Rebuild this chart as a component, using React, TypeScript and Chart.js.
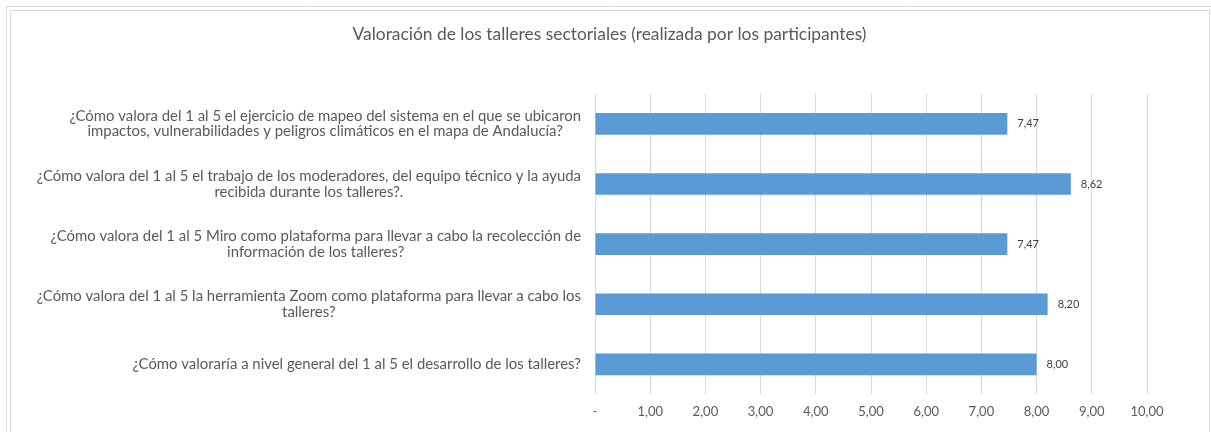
import React, { useEffect, useRef } from 'react';
import { Chart, registerables } from 'chart.js';

Chart.register(...registerables);

const chartTitle = 'Valoración de los talleres sectoriales (realizada por los participantes)';

const questions: string[][] = [
  [
    '¿Cómo valora del 1 al 5 el ejercicio de mapeo del sistema en el que se ubicaron',
    'impactos, vulnerabilidades y peligros climáticos en el mapa de Andalucía?',
  ],
  [
    '¿Cómo valora del 1 al 5 el trabajo de los moderadores, del equipo técnico y la ayuda',
    'recibida durante los talleres?.',
  ],
  [
    '¿Cómo valora del 1 al 5 Miro como plataforma para llevar a cabo la recolección de',
    'información de los talleres?',
  ],
  [
    '¿Cómo valora del 1 al 5 la herramienta Zoom como plataforma para llevar a cabo los',
    'talleres?',
  ],
  ['¿Cómo valoraría a nivel general del 1 al 5 el desarrollo de los talleres?'],
];

const scores = [7.47, 8.62, 7.47, 8.2, 8.0];

const xTickValues = [0, 1, 2, 3, 4, 5, 6, 7, 8, 9, 10];
const xTickLabels = ['-', '1,00', '2,00', '3,00', '4,00', '5,00', '6,00', '7,00', '8,00', '9,00', '10,00'];

const FONT = 'Lato, "Open Sans", "Noto Sans", sans-serif';
const TEXT = '#595959';
const GRID = '#d9d9d9';

const fmt = (v: number) => v.toFixed(2).replace('.', ',');

const framePlugin = {
  id: 'frame',
  beforeDraw(chart: any) {
    const ctx = chart.ctx;
    ctx.save();
    ctx.fillStyle = '#ffffff';
    ctx.fillRect(0, 0, chart.width, chart.height);
    ctx.strokeStyle = GRID;
    ctx.lineWidth = 1;
    ctx.beginPath();
    ctx.moveTo(6.5, chart.height + 5);
    ctx.lineTo(6.5, 6.5);
    ctx.lineTo(chart.width + 5, 6.5);
    ctx.moveTo(10.5, chart.height + 5);
    ctx.lineTo(10.5, 10.5);
    ctx.lineTo(1209.5, 10.5);
    ctx.lineTo(1209.5, chart.height + 5);
    ctx.stroke();
    ctx.restore();
  },
};

const yLabelPlugin = {
  id: 'yLabels',
  afterDraw(chart: any) {
    const ctx = chart.ctx;
    const ys = chart.scales.y;
    const labels = chart.data.labels as string[][];
    ctx.save();
    ctx.font = `14.9px ${FONT}`;
    ctx.fillStyle = TEXT;
    ctx.textBaseline = 'middle';
    ctx.textAlign = 'center';
    const lh = 15.5;
    labels.forEach((lines, i) => {
      const yc = ys.getPixelForTick(i);
      const widest = Math.max(...lines.map((l) => ctx.measureText(l).width));
      const cx = chart.chartArea.left - 14 - widest / 2;
      lines.forEach((l, j) => {
        ctx.fillText(l, cx, yc + (j - (lines.length - 1) / 2) * lh);
      });
    });
    ctx.restore();
  },
};

const valueLabelPlugin = {
  id: 'valueLabels',
  afterDatasetsDraw(chart: any) {
    const ctx = chart.ctx;
    const meta = chart.getDatasetMeta(0);
    const data = chart.data.datasets[0].data as number[];
    ctx.save();
    ctx.font = `11px ${FONT}`;
    ctx.fillStyle = '#404040';
    ctx.textBaseline = 'middle';
    ctx.textAlign = 'left';
    meta.data.forEach((bar: any, i: number) => {
      ctx.fillText(fmt(data[i]), bar.x + 10, bar.y);
    });
    ctx.restore();
  },
};

export default function App() {
  const canvasRef = useRef<HTMLCanvasElement | null>(null);

  useEffect(() => {
    if (!canvasRef.current) return;
    const chart = new Chart(canvasRef.current, {
      type: 'bar',
      data: {
        labels: questions,
        datasets: [
          {
            data: scores,
            backgroundColor: '#5B9BD5',
            borderWidth: 0,
            barPercentage: 0.36,
            categoryPercentage: 1,
          },
        ],
      },
      options: {
        indexAxis: 'y',
        animation: false,
        responsive: false,
        devicePixelRatio: 1,
        layout: { padding: { left: 72, right: 64, top: 0, bottom: 2 } },
        plugins: {
          legend: { display: false },
          tooltip: { enabled: false },
          title: {
            display: true,
            text: chartTitle,
            color: TEXT,
            font: { family: FONT, size: 17.4, weight: 'normal' },
            padding: { top: 24, bottom: 49 },
          },
        },
        scales: {
          x: {
            type: 'linear',
            position: 'bottom',
            min: 0,
            max: 10,
            afterBuildTicks: (scale: any) => {
              scale.ticks = xTickValues.map((v) => ({ value: v }));
            },
            grid: { color: GRID, drawTicks: false },
            border: { display: false },
            ticks: {
              padding: 10,
              color: TEXT,
              font: { family: FONT, size: 13 },
              callback: (_v: any, i: number) => xTickLabels[i],
            },
          },
          y: {
            type: 'category',
            grid: { display: false },
            border: { display: false },
            ticks: { display: false },
            afterFit: (scale: any) => {
              scale.width = 523;
            },
          },
        },
      },
      plugins: [framePlugin, yLabelPlugin, valueLabelPlugin],
    } as any);
    return () => chart.destroy();
  }, []);

  return (
    <div style={{ position: 'absolute', left: 0, top: 0, width: 1211, height: 432, background: '#fff' }}>
      <canvas ref={canvasRef} width={1211} height={432} style={{ display: 'block' }} />
    </div>
  );
}
